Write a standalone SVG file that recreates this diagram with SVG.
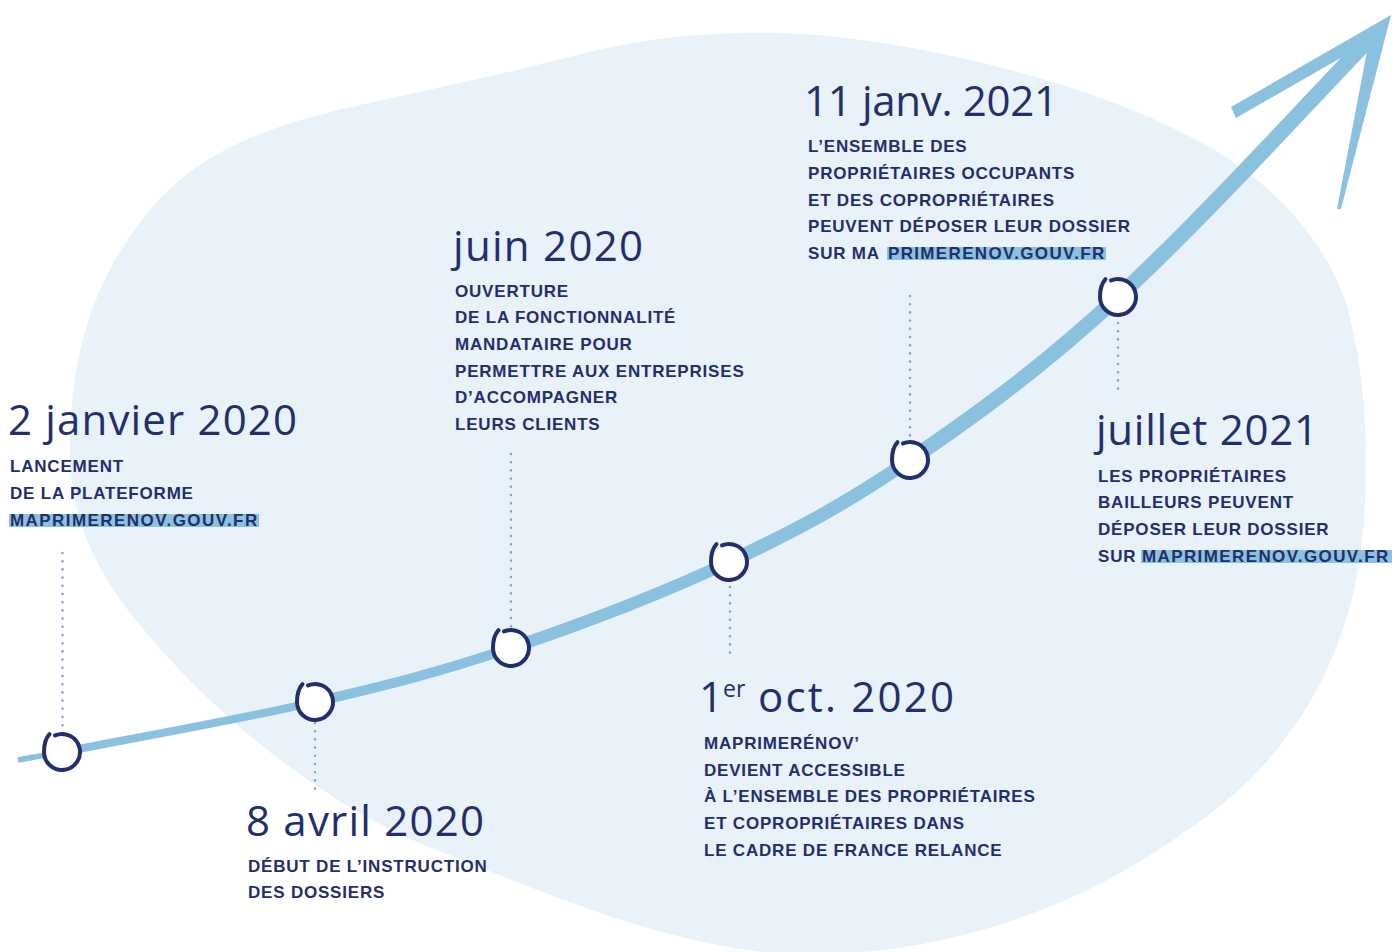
<svg xmlns="http://www.w3.org/2000/svg" xmlns:xlink="http://www.w3.org/1999/xlink" width="1392" height="952" viewBox="0 0 1392 952">
<style>
.date{font-family:"Open Sans","Liberation Sans",sans-serif;font-weight:400;font-size:42px;fill:#232e6c}
.sup{font-size:23px}
.body{font-family:"Liberation Sans",Arial,sans-serif;font-weight:700;font-size:17px;letter-spacing:0.8px;fill:#232e6c}
.hl{fill:#8bc2df}
.curve{fill:none;stroke:#8ac1de;stroke-linecap:butt}
.dots{fill:none;stroke:#7ea8c5;stroke-width:2.6;stroke-dasharray:0 8.2;stroke-linecap:round}
.barb{fill:#8ac1de}
</style>
<defs>
<g id="ring">
<circle cx="0" cy="0" r="17" fill="#ffffff"/>
<path d="M -12.5,-17.8 C -16.5,-13.5 -18,-6 -18,0 A 18 18 0 1 0 -7,-16.6" fill="none" stroke="#232e6c" stroke-width="4" stroke-linecap="round"/>
</g>
</defs>
<rect width="1392" height="952" fill="#ffffff"/>
<path id="blob" fill="#e9f1f9" d="M 585,53 C 660,35 720,32 780,33 C 900,36 1080,80 1183,133 C 1260,170 1320,230 1345,300 C 1370,380 1372,500 1355,585 C 1335,680 1280,770 1183,833 C 1090,900 960,955 800,955 C 680,950 560,900 450,855 C 350,820 230,735 140,625 C 85,560 68,500 70,440 C 72,340 100,270 150,210 C 200,150 270,125 360,105 C 450,85 520,70 585,53 Z"/>
<g id="connectors">
<path class="dots" d="M 62.5,553 V 737"/>
<path class="dots" d="M 315,723 V 796"/>
<path class="dots" d="M 511,454 V 630"/>
<path class="dots" d="M 730,587 V 656"/>
<path class="dots" d="M 910,296 V 440"/>
<path class="dots" d="M 1118,323 V 393"/>
<path class="curve" stroke-width="5.5" d="M 18,760 C 33,757.5 47,754.5 62,752"/>
<path class="curve" stroke-width="8" d="M 62,752 C 111.5,742.3 240.2,719.3 315,702"/>
<path class="curve" stroke-width="10" d="M 315,702 C 389.8,684.7 442,671.3 511,648"/>
<path class="curve" stroke-width="12" d="M 511,648 C 580,624.7 662.5,593.3 729,562"/>
<path class="curve" stroke-width="13.5" d="M 729,562 C 795.5,530.7 845.2,504.2 910,460"/>
<path class="curve" stroke-width="15" d="M 910,460 C 974.8,415.8 1038.8,370 1118,297"/>
<path class="curve" stroke-width="15.5" d="M 1118,297 C 1197.2,224 1292,120 1377,31"/>
<polygon class="barb" points="1391,15 1231,107 1236,118 1379,36"/>
<polygon class="barb" points="1391,15 1371,30 1337,209 1341,209"/>
</g>
<g id="node-2020-01-02">
<use xlink:href="#ring" x="62" y="752"/>
<text class="date" x="8" y="435" textLength="289">2 janvier 2020</text>
<rect class="hl" x="9" y="514" width="250" height="13"/>
<text class="body" x="10" y="472">LANCEMENT</text>
<text class="body" x="10" y="499">DE LA PLATEFORME</text>
<text class="body" x="10" y="526" textLength="248">MAPRIMERENOV.GOUV.FR</text>
</g>
<g id="node-2020-04-08">
<use xlink:href="#ring" x="315" y="702"/>
<text class="date" x="246" y="836" textLength="238">8 avril 2020</text>
<text class="body" x="248" y="872">DÉBUT DE L’INSTRUCTION</text>
<text class="body" x="248" y="898">DES DOSSIERS</text>
</g>
<g id="node-2020-06">
<use xlink:href="#ring" x="511" y="648"/>
<text class="date" x="453" y="261" textLength="190">juin 2020</text>
<text class="body" x="455" y="297">OUVERTURE</text>
<text class="body" x="455" y="323">DE LA FONCTIONNALITÉ</text>
<text class="body" x="455" y="350">MANDATAIRE POUR</text>
<text class="body" x="455" y="377">PERMETTRE AUX ENTREPRISES</text>
<text class="body" x="455" y="403">D’ACCOMPAGNER</text>
<text class="body" x="455" y="430">LEURS CLIENTS</text>
</g>
<g id="node-2020-10-01">
<use xlink:href="#ring" x="729" y="562"/>
<text class="date" x="699" y="712">1<tspan class="sup" dy="-15">er</tspan><tspan x="758" dy="15" textLength="196">oct. 2020</tspan></text>
<text class="body" x="704" y="749">MAPRIMERÉNOV’</text>
<text class="body" x="704" y="776">DEVIENT ACCESSIBLE</text>
<text class="body" x="704" y="802">À L’ENSEMBLE DES PROPRIÉTAIRES</text>
<text class="body" x="704" y="829">ET COPROPRIÉTAIRES DANS</text>
<text class="body" x="704" y="856">LE CADRE DE FRANCE RELANCE</text>
</g>
<g id="node-2021-01-11">
<use xlink:href="#ring" x="910" y="460"/>
<text class="date" x="804" y="116" textLength="254">11 janv. 2021</text>
<rect class="hl" x="887" y="247" width="219" height="13"/>
<text class="body" x="808" y="152">L’ENSEMBLE DES</text>
<text class="body" x="808" y="179">PROPRIÉTAIRES OCCUPANTS</text>
<text class="body" x="808" y="206">ET DES COPROPRIÉTAIRES</text>
<text class="body" x="808" y="232">PEUVENT DÉPOSER LEUR DOSSIER</text>
<text class="body" x="808" y="259">SUR MA <tspan x="888" textLength="217">PRIMERENOV.GOUV.FR</tspan></text>
</g>
<g id="node-2021-07">
<use xlink:href="#ring" x="1118" y="297"/>
<text class="date" x="1096" y="445" textLength="222">juillet 2021</text>
<rect class="hl" x="1141" y="550" width="251" height="13"/>
<text class="body" x="1098" y="482">LES PROPRIÉTAIRES</text>
<text class="body" x="1098" y="508">BAILLEURS PEUVENT</text>
<text class="body" x="1098" y="535">DÉPOSER LEUR DOSSIER</text>
<text class="body" x="1098" y="562">SUR <tspan x="1142" textLength="247">MAPRIMERENOV.GOUV.FR</tspan></text>
</g>
</svg>
